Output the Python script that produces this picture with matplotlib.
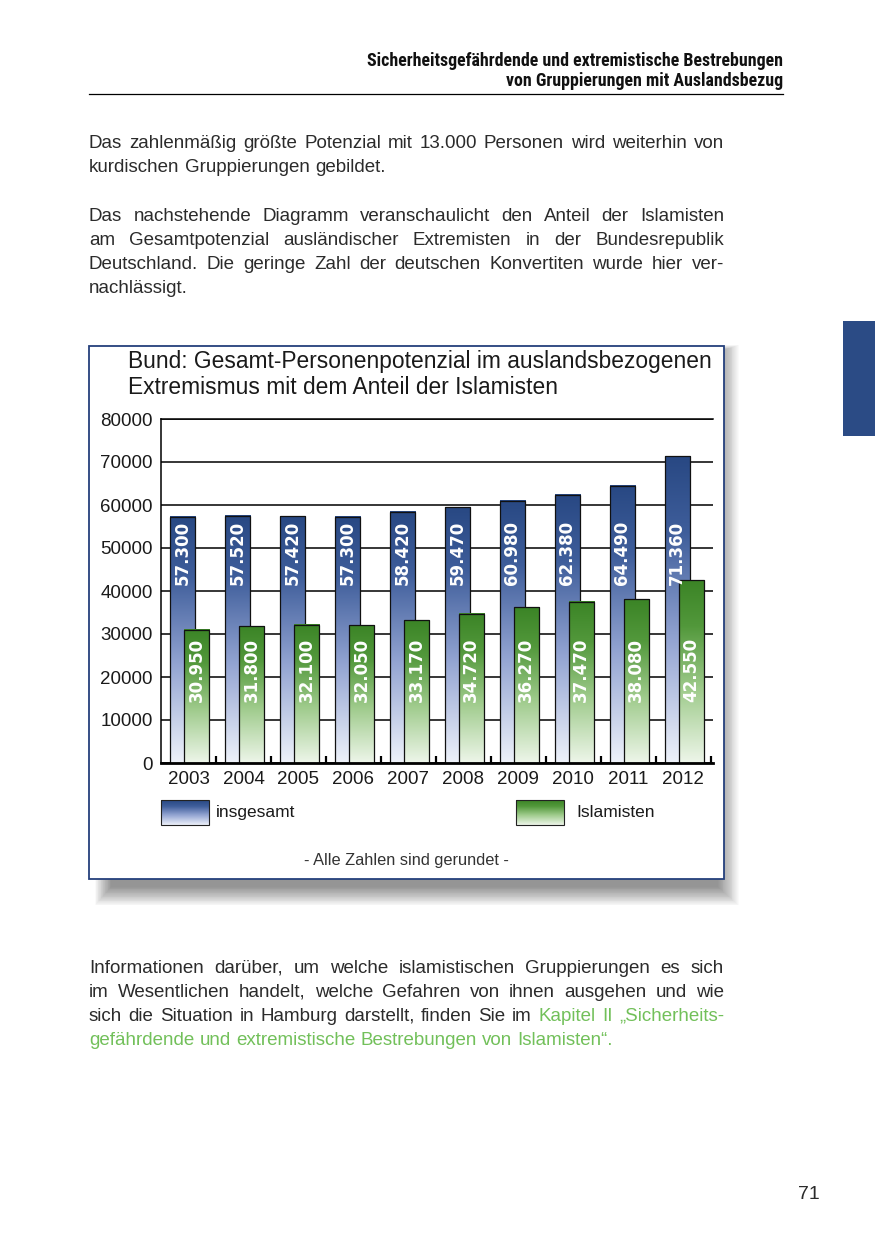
import numpy as np
import matplotlib
matplotlib.use("Agg")
import matplotlib.pyplot as plt
from matplotlib import font_manager
from matplotlib.font_manager import FontProperties
from matplotlib.colors import LinearSegmentedColormap
from matplotlib.patches import Rectangle

# Daten
years = ["2003", "2004", "2005", "2006", "2007", "2008", "2009", "2010", "2011", "2012"]
insgesamt = [57300, 57520, 57420, 57300, 58420, 59470, 60980, 62380, 64490, 71360]
islamisten = [30950, 31800, 32100, 32050, 33170, 34720, 36270, 37470, 38080, 42550]
y_ticks = [0, 10000, 20000, 30000, 40000, 50000, 60000, 70000, 80000]

header = ["Sicherheitsgefährdende und extremistische Bestrebungen",
          "von Gruppierungen mit Auslandsbezug"]
chart_title = ["Bund: Gesamt-Personenpotenzial im auslandsbezogenen",
               "Extremismus mit dem Anteil der Islamisten"]
para1 = ["Das zahlenmäßig größte Potenzial mit 13.000 Personen wird weiterhin von",
         "kurdischen Gruppierungen gebildet."]
para2 = ["Das nachstehende Diagramm veranschaulicht den Anteil der Islamisten",
         "am Gesamtpotenzial ausländischer Extremisten in der Bundesrepublik",
         "Deutschland. Die geringe Zahl der deutschen Konvertiten wurde hier ver-",
         "nachlässigt."]
para3 = ["Informationen darüber, um welche islamistischen Gruppierungen es sich",
         "im Wesentlichen handelt, welche Gefahren von ihnen ausgehen und wie",
         "sich die Situation in Hamburg darstellt, finden Sie im",
         "gefährdende und extremistische Bestrebungen von Islamisten“."]
link_start = "Kapitel II „Sicherheits-"

W, H = 875, 1241
SANS = ["Liberation Sans", "DejaVu Sans"]
TXT = "#2b2b2b"
GREEN_TXT = "#72c05a"
NAVY = "#2b4b85"

# schmale Schrift für die Kopfzeile, falls vorhanden
head_kw = dict(family=SANS, weight="bold")
fonts = font_manager.fontManager.ttflist
names = {f.name for f in fonts}
for n in ["Liberation Sans Narrow", "Roboto Condensed", "Open Sans Condensed"]:
    if n in names:
        head_kw = dict(family=[n, "DejaVu Sans"], weight="bold")
        break
else:
    if any(f.name == "DejaVu Sans" and f.stretch == "condensed" for f in fonts):
        head_kw = dict(family=["DejaVu Sans"], weight="bold", stretch="condensed")

blue_cmap = LinearSegmentedColormap.from_list(
    "blau", [(0, "#eef2fa"), (0.4, "#93a4d2"), (0.75, "#3f5e9b"), (1, "#284883")])
green_cmap = LinearSegmentedColormap.from_list(
    "gruen", [(0, "#eef6ea"), (0.4, "#9fcb8c"), (0.75, "#52983b"), (1, "#3b8426")])
grad = np.linspace(0, 1, 256).reshape(-1, 1)

fig = plt.figure(figsize=(W / 100, H / 100), dpi=100)
fig.patch.set_facecolor("white")

# Seite in Pixelkoordinaten
page = fig.add_axes([0, 0, 1, 1])
page.set_xlim(0, W)
page.set_ylim(H, 0)
page.axis("off")
renderer = fig.canvas.get_renderer()


def text_width(s, size, **kw):
    t = page.text(0, 0, s, fontsize=size, **kw)
    w = t.get_window_extent(renderer).width
    t.remove()
    return w


def fit_size(s, target, **kw):
    return 12 * target / text_width(s, 12, **kw)


def put_word(x, y, w, size, color):
    # Unterlänge auf ganze Pixel runden, damit alle Wörter auf einer Grundlinie stehen
    _, _, d = renderer.get_text_width_height_descent(w, FontProperties(family=SANS, size=size), ismath=False)
    page.text(x, y + round(d) - d, w, fontsize=size, family=SANS, color=color, va="baseline")


def justified(words, y, size, x0=89, x1=724):
    # words: liste von (wort, farbe)
    widths = [text_width(w, size, family=SANS) for w, c in words]
    gap = (x1 - x0 - sum(widths)) / (len(words) - 1)
    x = x0
    for (w, c), wd in zip(words, widths):
        put_word(x, y, w, size, c)
        x += wd + gap


def left_line(words, y, size, x0=89):
    sp = text_width("x x", size, family=SANS) - text_width("xx", size, family=SANS)
    x = x0
    for w, c in words:
        put_word(x, y, w, size, c)
        x += text_width(w, size, family=SANS) + sp


# Kopfzeile
hsize = fit_size(header[0], 416, **head_kw)
page.text(783, 66, header[0], fontsize=hsize, ha="right", va="baseline", color="#111111", **head_kw)
page.text(783, 86, header[1], fontsize=hsize, ha="right", va="baseline", color="#111111", **head_kw)
page.plot([89, 783], [93.5, 93.5], color="black", lw=0.9)

# blauer Reiter rechts
page.add_patch(Rectangle((843, 321), 40, 115, color=NAVY, lw=0))

# Fließtext
full_lines = [para1[0]] + para2[:3] + para3[:2] + [para3[2] + " " + link_start]
bsize = min([fit_size(para1[1], 309, family=SANS)] +
            [fit_size(l, 635 - 1.0 * l.count(" "), family=SANS) for l in full_lines])

for lines, y0 in [(para1, 148), (para2, 221)]:
    for i, line in enumerate(lines):
        words = [(w, TXT) for w in line.split()]
        if i < len(lines) - 1:
            justified(words, y0 + 24 * i, bsize)
        else:
            left_line(words, y0 + 24 * i, bsize)

for i, line in enumerate(para3):
    y = 973 + 24 * i
    if i < 2:
        justified([(w, TXT) for w in line.split()], y, bsize)
    elif i == 2:
        justified([(w, TXT) for w in line.split()] + [(w, GREEN_TXT) for w in link_start.split()], y, bsize)
    else:
        left_line([(w, GREEN_TXT) for w in line.split()], y, bsize)

page.text(820, 1199, "71", fontsize=14, family=SANS, color=TXT, ha="right", va="baseline")

# Rahmen mit weichem Schatten
fx0, fy0, fx1, fy1 = 89, 346, 724, 879
for i in range(24):
    page.add_patch(Rectangle((fx0 + 22 - 0.7 * i, fy0 + 6 - i * 0.3),
                             (fx1 - fx0) - 28 + 1.6 * i, (fy1 - fy0) + 2 + i * 1.1,
                             color="#000000", alpha=0.02, lw=0))
page.add_patch(Rectangle((fx0, fy0), fx1 - fx0, fy1 - fy0, facecolor="white",
                         edgecolor="#25407c", lw=1.3))

tsize = fit_size(chart_title[0], 583, family=SANS)
page.text(128, 368, chart_title[0], fontsize=tsize, family=SANS, color="#1a1a1a", va="baseline")
page.text(128, 394, chart_title[1], fontsize=tsize, family=SANS, color="#1a1a1a", va="baseline")

# Legende
for (lx, cmap, label, tx) in [(161, blue_cmap, "insgesamt", 216), (516, green_cmap, "Islamisten", 576)]:
    page.imshow(grad, cmap=cmap, extent=(lx, lx + 48, 825, 800), origin="lower",
                aspect="auto", interpolation="bilinear", zorder=3)
    page.add_patch(Rectangle((lx, 800), 48, 25, fill=False, edgecolor="#222222", lw=0.8, zorder=4))
    page.text(tx, 817, label, fontsize=12.5, family=SANS, color="#1a1a1a", va="baseline")

fsize = fit_size("- Alle Zahlen sind gerundet -", 206, family=SANS)
page.text(406, 865, "- Alle Zahlen sind gerundet -", fontsize=fsize, family=SANS,
          color="#333333", ha="center", va="baseline")
page.set_xlim(0, W)
page.set_ylim(H, 0)

# Diagramm
ax = fig.add_axes([161 / W, 1 - 763 / H, (713 - 161) / W, (763 - 419) / H])
ax.patch.set_alpha(0)
x = np.arange(len(years))
bw = 0.455
b1 = ax.bar(x - 0.11, insgesamt, bw, facecolor="none", edgecolor="#111111", lw=0.9, zorder=2.1)
b2 = ax.bar(x + 0.145, islamisten, bw, facecolor="none", edgecolor="#111111", lw=0.9, zorder=2.3)
for bars, cmap, z in [(b1, blue_cmap, 2.0), (b2, green_cmap, 2.2)]:
    for r in bars:
        x0, w, h = r.get_x(), r.get_width(), r.get_height()
        ax.imshow(grad, cmap=cmap, extent=(x0, x0 + w, 0, h), origin="lower",
                  aspect="auto", interpolation="bilinear", zorder=z)

for r, v in zip(b1, insgesamt):
    ax.text(r.get_x() + r.get_width() / 2, 56300, f"{v:,}".replace(",", "."), rotation=90,
            ha="center", va="top", color="white", fontsize=12, fontweight="bold",
            family=["DejaVu Sans"], zorder=3)
for r, v in zip(b2, islamisten):
    ax.text(r.get_x() + r.get_width() / 2, 14200, f"{v:,}".replace(",", "."), rotation=90,
            ha="center", va="bottom", color="white", fontsize=12, fontweight="bold",
            family=["DejaVu Sans"], zorder=3)

ax.set_xlim(-0.5, 9.54)
ax.set_ylim(0, 80000)
ax.set_yticks(y_ticks)
ax.set_yticklabels([str(t) for t in y_ticks], family=SANS, fontsize=13.5, color="#1a1a1a")
ax.set_xticks(x)
ax.set_xticklabels(years, family=SANS, fontsize=13.5, color="#1a1a1a")
ax.set_xticks(x + 0.5, minor=True)
ax.tick_params(axis="y", length=0, pad=6)
ax.tick_params(axis="x", which="major", length=0, pad=6)
ax.tick_params(axis="x", which="minor", direction="in", length=5, width=1.6, color="black")
ax.yaxis.grid(True, color="black", lw=1.1)
ax.set_axisbelow(True)
ax.spines["right"].set_visible(False)
ax.spines["top"].set_linewidth(1.1)
ax.spines["left"].set_linewidth(1.1)
ax.spines["bottom"].set_linewidth(2)

fig.savefig("out.png", dpi=100, facecolor="white")
